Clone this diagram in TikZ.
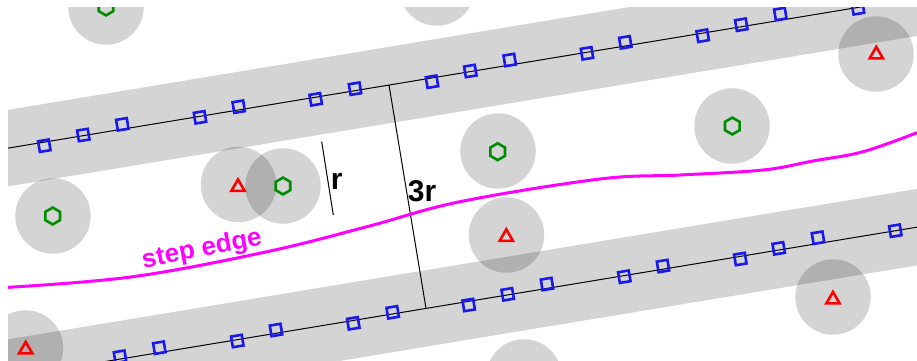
\documentclass[tikz,border=0pt]{standalone}
\usepackage{fontspec}
\setmainfont{Liberation Sans}
\usetikzlibrary{shapes.geometric}
\definecolor{stepcol}{rgb}{1,0,1}
\definecolor{sitegreen}{rgb}{0,0.55,0}
\definecolor{sampleblue}{rgb}{0.1,0.1,0.92}

\begin{document}
\begin{tikzpicture}[x=0.5pt,y=-0.5pt]
	  \tikzstyle{disk} = [circle, fill=black, fill opacity=0.17, minimum size=37.75pt, inner sep=0]
	  \tikzstyle{band} = [draw=black, draw opacity=0.17, line width=37.75pt]
	  \tikzstyle{sample} = [rectangle, draw=sampleblue, line width=1.3pt, minimum size=5.4pt, inner sep=0, rotate=9.4]
	  \tikzstyle{hexa} = [regular polygon, regular polygon sides=6, regular polygon rotate=30, draw=sitegreen, line width=1.3pt, minimum size=8.4pt, inner sep=0]
	  \tikzstyle{tri} = [regular polygon, regular polygon sides=3, draw=red, line width=1.3pt, minimum size=7.6pt, inner sep=0]
	  \tikzstyle{lbl} = [font=\fontsize{15}{18}\selectfont\bfseries, inner sep=0]
	  \useasboundingbox (0,0) rectangle (917,360);
	  \clip (8,7) rectangle (917,360);
	  % the two bands
	  \coordinate (ua) at (-100,166.0);
	  \coordinate (ub) at (1000,-16.1);
	  \coordinate (la) at (-100,395.5);
	  \coordinate (lb) at (1000,213.4);
	  \draw[band] (ua) -- (ub);
	  \draw[band] (la) -- (lb);
	  % disks round the sites
	  \foreach \x/\y [count=\i] in {106/7, 437/-12, 876/54, 732/126, 498/151, 238.5/184.5, 283/186, 53/216, 506.5/235, 833/297, 25.5/348, 524/377}
	    \node[disk] (d\i) at (\x,\y) {};
	  \draw[line width=0.5pt] (ua) -- (ub);
	  \draw[line width=0.5pt] (la) -- (lb);
	  % widths
	  \coordinate (top3) at (389,85);
	  \coordinate (bot3) at (426,308.4);
	  \draw[line width=0.5pt] (top3) -- (bot3);
	  \coordinate (topr) at (321.7,141.7);
	  \coordinate (botr) at (333.3,215);
	  \draw[line width=0.5pt] (topr) -- (botr);
	  % samples on the lines
	  \foreach \x/\y [count=\i] in {44.3/145.7, 83.3/135, 122.3/124.3, 200/117.3, 238.7/106.7, 315.7/99.3, 355/88.7, 432/81.7, 470.3/71, 509.7/60, 587/53.3, 625.3/42.3, 702.7/35.7, 741.3/24.7, 780.3/14, 858/8.3}
	    \node[sample] (u\i) at (\x,\y) {};
	  \foreach \x/\y [count=\i] in {120/356.7, 159.3/347.7, 237.3/341, 276/330, 353.3/323.3, 392.7/312.3, 468.7/305, 507.7/294.3, 547/284, 624.3/276.7, 663/266, 740.3/259, 778.7/248.3, 818/237.7, 895.3/230.7}
	    \node[sample] (l\i) at (\x,\y) {};
	  % sites
	  \foreach \x/\y [count=\i] in {106/7, 732.3/126, 497.7/151.7, 283/186, 52.7/216}
	    \node[hexa] (h\i) at (\x,\y) {};
	  \foreach \x/\y [count=\i] in {876.3/54.5, 238/187, 506.3/237, 833/299.5, 25.7/349.5}
	    \node[tri] (t\i) at (\x,\y) {};
	  % step edge
	  \draw[stepcol, line width=1.5pt] plot[smooth, tension=0.6] coordinates {(8,287.3) (133,276.7) (267,251.7) (367,226.7) (460,201.7) (600,179) (680,175) (763,170) (813,161) (863,151.7) (917,132.7)};
	  \node (steplbl) [lbl, font=\fontsize{13}{16}\selectfont\bfseries, text=stepcol, rotate=11] at (202,250) {step edge};
	  \node (rlbl) [lbl, anchor=base west] at (330.5,189.5) {r};
	  \node (lbl3r) [lbl, anchor=base west] at (407.5,201.7) {3r};
	\end{tikzpicture}
\end{document}
